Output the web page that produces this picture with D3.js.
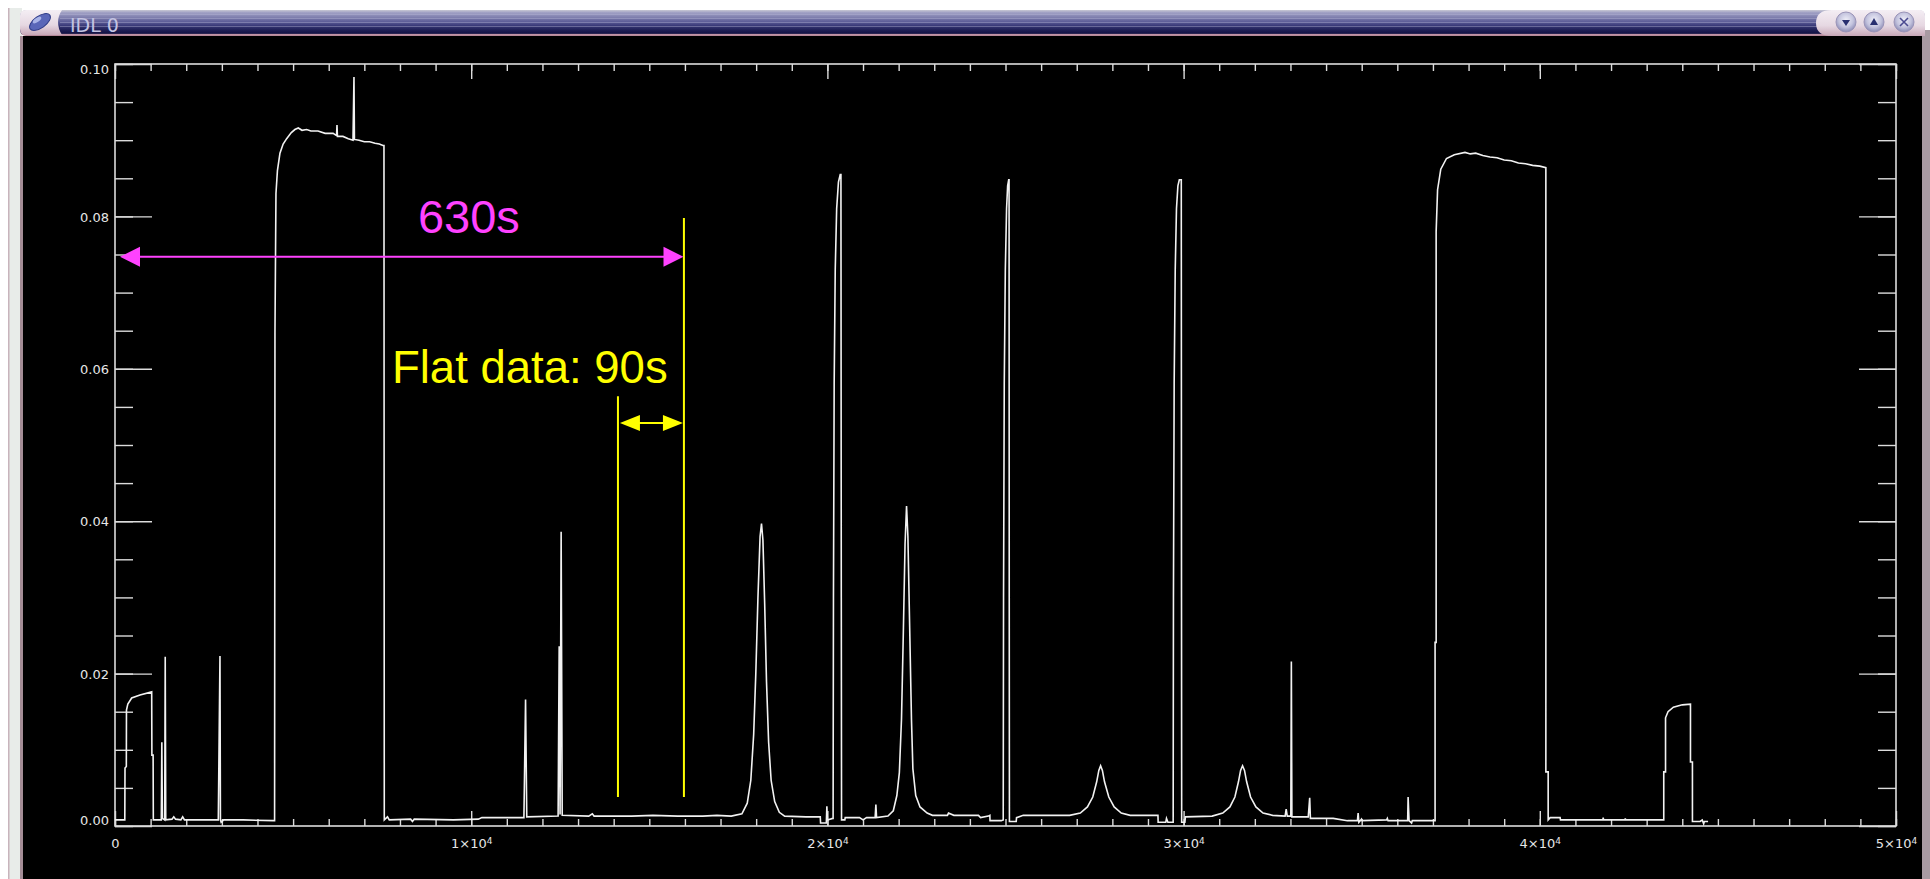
<!DOCTYPE html>
<html>
<head>
<meta charset="utf-8">
<script src="https://cdn.jsdelivr.net/npm/d3@7"></script>
<style>
  html, body { margin: 0; padding: 0; background: #fff; overflow: hidden; }
  svg { display: block; }
</style>
</head>
<body>
<div id="graph-wrapper"></div>
<script>
// signal trace (time units, signal)
const sampleTime = [
  0, 275, 281, 318, 322, 360, 468, 702, 1030, 1036, 1070, 1076, 1300, 1315, 1330, 1395, 1410, 1425,
  1600, 1650, 1700, 1850, 1900, 1950, 2900, 2947, 2960, 2980, 3050, 3600, 4440,
  // first long plateau
  4480, 4491, 4519, 4560, 4631, 4720, 4819, 4950, 5050, 5146, 5250, 5380, 5500, 5700, 5900, 6124,
  6220, 6232, 6245, 6400, 6550, 6681, 6709, 6722, 6850, 7000, 7150, 7300, 7420, 7523, 7551, 7560,
  // flat stretch
  7650, 7700, 8300, 8350, 8400, 9500, 10200, 10300, 11480, 11526, 11560, 12440, 12470, 12495, 12525, 12555,
  13300, 13400, 13450, 14500, 15100, 15800, 16500, 16900, 17300,
  // peak near 1.8e4
  17600, 17750, 17850, 17930, 17990, 18050, 18110, 18150, 18190, 18240, 18290, 18350, 18420, 18520, 18650, 18800,
  19400, 19800, 19808, 19970, 19985, 20000, 20150,
  // narrow peak near 2.0e4
  20160, 20170, 20190, 20220, 20260, 20310, 20360, 20380, 20390, 20397, 20490, 20500,
  20900, 21000, 21100, 21340, 21361, 21380, 21700,
  // peak near 2.2e4
  21850, 21950, 22020, 22080, 22130, 22180, 22222, 22260, 22310, 22360, 22400, 22480, 22600, 22800, 22950,
  23370, 23400, 23550, 24240, 24300, 24520, 24561, 24565, 24880,
  // narrow peak near 2.5e4
  24936, 24945, 24965, 24995, 25030, 25060, 25090, 25100, 25105, 25110, 25300, 25310, 25500, 26800,
  // small peak near 2.77e4
  27100, 27300, 27450, 27560, 27620, 27670, 27720, 27780, 27900, 28050, 28250, 28500, 29280, 29285,
  29500, 29520, 29560, 29700,
  // narrow peak near 3.0e4
  29707, 29715, 29735, 29765, 29800, 29840, 29880, 29935, 29941, 29946, 30036, 30050, 30800,
  // small peak near 3.17e4
  31100, 31300, 31440, 31540, 31600, 31655, 31710, 31770, 31880, 32030, 32230, 32500, 32850, 32880, 32910,
  33010, 33025, 33040, 33500, 33540, 33560, 34200, 34600,
  34880, 34900, 34920, 34995, 35010, 35700, 35720, 35740, 36290, 36303, 36315, 36330, 36400, 36420, 37060,
  // second long plateau
  37060, 37090, 37090, 37130, 37220, 37380, 37600, 37900, 38050, 38200, 38400, 38600, 38800, 39000, 39200,
  39400, 39600, 39800, 40000, 40170, 40170, 40235, 40235, 40290, 40570, 40580, 41770, 41780, 41790,
  42390, 42400, 42410, 43480,
  // short plateau
  43480, 43530, 43530, 43600, 43750, 44000, 44230, 44230, 44285, 44285, 44500, 44560, 44600, 44620, 44724
];
const signal = [
  0.0008, 0.0008, 0.0076, 0.0078, 0.0152, 0.0160, 0.0168, 0.0172, 0.0176, 0.0093, 0.0093, 0.0008, 0.0008, 0.0110, 0.0010, 0.0008, 0.0222, 0.0008,
  0.0009, 0.0012, 0.0009, 0.0008, 0.0012, 0.0008, 0.0008, 0.0223, 0.0008, 0.0005, 0.0008, 0.0008, 0.0007,
  0.0007, 0.0647, 0.0830, 0.0860, 0.0883, 0.0895, 0.0902, 0.0910, 0.0914, 0.0916, 0.0913, 0.0914, 0.0912, 0.0912, 0.0909, 0.0909,
  0.0906, 0.0920, 0.0905, 0.0905, 0.0902, 0.0900, 0.0983, 0.0901, 0.0900, 0.0898, 0.0898, 0.0896, 0.0895, 0.0893, 0.0893, 0.0008,
  0.0012, 0.0008, 0.0009, 0.0006, 0.0009, 0.0008, 0.0009, 0.0011, 0.0011, 0.0166, 0.0012, 0.0013, 0.0236, 0.0015, 0.0386, 0.0014,
  0.0013, 0.0016, 0.0013, 0.0013, 0.0014, 0.0013, 0.0013, 0.0014, 0.0013,
  0.0016, 0.0030, 0.0060, 0.0120, 0.0200, 0.0300, 0.0380, 0.0397, 0.0375, 0.0290, 0.0190, 0.0110, 0.0060, 0.0032, 0.0018, 0.0013,
  0.0012, 0.0012, 0.0004, 0.0004, 0.0026, 0.0008, 0.0010,
  0.0010, 0.0300, 0.0580, 0.0730, 0.0810, 0.0845, 0.0855, 0.0855, 0.0300, 0.0008, 0.0008, 0.0011,
  0.0011, 0.0008, 0.0011, 0.0011, 0.0028, 0.0011, 0.0013,
  0.0020, 0.0040, 0.0070, 0.0140, 0.0250, 0.0370, 0.0420, 0.0380, 0.0260, 0.0140, 0.0075, 0.0040, 0.0025, 0.0017, 0.0014,
  0.0014, 0.0017, 0.0014, 0.0014, 0.0011, 0.0013, 0.0014, 0.0007, 0.0007,
  0.0008, 0.0300, 0.0580, 0.0730, 0.0810, 0.0840, 0.0848, 0.0848, 0.0300, 0.0006, 0.0006, 0.0011, 0.0014, 0.0014,
  0.0017, 0.0025, 0.0038, 0.0058, 0.0073, 0.0079, 0.0073, 0.0058, 0.0038, 0.0025, 0.0017, 0.0014, 0.0014, 0.0005,
  0.0005, 0.0010, 0.0005, 0.0005,
  0.0005, 0.0300, 0.0580, 0.0730, 0.0810, 0.0840, 0.0848, 0.0848, 0.0300, 0.0005, 0.0005, 0.0012, 0.0013,
  0.0017, 0.0025, 0.0038, 0.0058, 0.0073, 0.0079, 0.0073, 0.0058, 0.0038, 0.0025, 0.0017, 0.0014, 0.0013, 0.0022, 0.0013,
  0.0013, 0.0216, 0.0012, 0.0012, 0.0037, 0.0010, 0.0010, 0.0007,
  0.0007, 0.0017, 0.0005, 0.0009, 0.0007, 0.0008, 0.0010, 0.0007, 0.0007, 0.0038, 0.0024, 0.0007, 0.0004, 0.0007, 0.0007,
  0.0241, 0.0241, 0.0780, 0.0835, 0.0862, 0.0876, 0.0881, 0.0884, 0.0882, 0.0883, 0.0880, 0.0878, 0.0877, 0.0874, 0.0873,
  0.0870, 0.0869, 0.0867, 0.0866, 0.0864, 0.0071, 0.0071, 0.0008, 0.0011, 0.0011, 0.0008, 0.0008, 0.0011, 0.0008,
  0.0008, 0.0010, 0.0008, 0.0008,
  0.0071, 0.0071, 0.0142, 0.0150, 0.0156, 0.0159, 0.0160, 0.0084, 0.0084, 0.0006, 0.0006, 0.0008, 0.0003, 0.0006, 0.0006
];

// axis ticks
const xMajor = [0, 10000, 20000, 30000, 40000, 50000];
const xMinor = d3.range(0, 51).map(i => i * 1000);
const yMajor = [0, 0.02, 0.04, 0.06, 0.08, 0.10];
const yMinor = d3.range(0, 21).map(i => i * 0.005);

// annotations (data coordinates)
const spanArrow = { from: 140, to: 15960, level: 0.0747, label: "630s", labelX: 8505, labelY: 0.0778 };
const flatLines = [14120, 15972];
const flatTops = [0.0564, 0.0798];
const flatBottom = 0.0038;
const flatArrow = { level: 0.0529, label: "Flat data: 90s", labelX: 7775, labelY: 0.0581 };

function drawChart() {
  const width = 1930;
  const height = 879;
  const plotLeft = 115, plotRight = 1896, plotTop = 64, plotBottom = 826;

  const svg = d3.select("#graph-wrapper").append("svg")
      .attr("width", width)
      .attr("height", height);

  const defs = svg.append("defs");
  const barGrad = defs.append("linearGradient").attr("id", "bar").attr("x1", 0).attr("y1", 0).attr("x2", 0).attr("y2", 1);
  [["0", "#c8c8d4"], ["0.1", "#a0a0c4"], ["0.3", "#7c7cac"], ["0.45", "#5e5e98"], ["0.6", "#3a3a78"],
   ["0.78", "#1e1e54"], ["0.9", "#121244"], ["0.93", "#c496a8"], ["1", "#b08494"]]
    .forEach(s => barGrad.append("stop").attr("offset", s[0]).attr("stop-color", s[1]));
  const capGrad = defs.append("linearGradient").attr("id", "cap").attr("x1", 0).attr("y1", 0).attr("x2", 0).attr("y2", 1);
  [["0", "#f4eef4"], ["0.6", "#e6d8e2"], ["1", "#c8a8b8"]]
    .forEach(s => capGrad.append("stop").attr("offset", s[0]).attr("stop-color", s[1]));
  const btnGrad = defs.append("radialGradient").attr("id", "btn").attr("cx", "50%").attr("cy", "40%").attr("r", "60%");
  [["0", "#eeeef8"], ["0.6", "#c4c4de"], ["1", "#8a8ab4"]]
    .forEach(s => btnGrad.append("stop").attr("offset", s[0]).attr("stop-color", s[1]));

  // window chrome
  svg.append("rect").attr("width", width).attr("height", height).attr("fill", "#ffffff");
  svg.append("rect").attr("x", 8).attr("y", 8).attr("width", 14).attr("height", height - 8).attr("fill", "#e8ece9");
  svg.append("rect").attr("x", 8).attr("y", 8).attr("width", 1.5).attr("height", height - 8).attr("fill", "#c8b4bc");
  svg.append("rect").attr("x", 20).attr("y", 10).attr("width", 1905).attr("height", 26).attr("rx", 6).attr("fill", "url(#bar)");
  [14, 18, 22, 26].forEach(yy => svg.append("rect").attr("x", 60).attr("y", yy).attr("width", 1760).attr("height", 1)
      .attr("fill", "#b8b8d8").attr("opacity", 0.4));
  svg.append("rect").attr("x", 20).attr("y", 36).attr("width", 3).attr("height", height - 36).attr("fill", "#a48c96");
  svg.append("rect").attr("x", 23).attr("y", 36).attr("width", 1899).attr("height", height - 36).attr("fill", "#000000");
  svg.append("rect").attr("x", 1922).attr("y", 30).attr("width", 8).attr("height", height - 30).attr("fill", "#a89aa2");

  // left cap with icon
  svg.append("path").attr("d", "M26,10 L62,10 Q54,22 62,35 L26,35 Q20,35 20,29 L20,16 Q20,10 26,10 Z").attr("fill", "url(#cap)");
  svg.append("ellipse").attr("cx", 40).attr("cy", 22).attr("rx", 12).attr("ry", 6)
      .attr("transform", "rotate(-35 40 22)").attr("fill", "#5a66b8").attr("stroke", "#303c88");
  svg.append("ellipse").attr("cx", 37).attr("cy", 20).attr("rx", 5).attr("ry", 2)
      .attr("transform", "rotate(-35 37 20)").attr("fill", "#aab4e8");
  svg.append("text").attr("x", 70).attr("y", 32).text("IDL 0")
      .style("font-family", "DejaVu Sans, sans-serif").style("font-size", "19px").attr("fill", "#c4c4e2");

  // right cap with buttons
  svg.append("path").attr("d", "M1832,10 L1920,10 Q1925,10 1925,16 L1925,36 L1832,36 Q1816,36 1816,23 Q1816,10 1832,10 Z")
      .attr("fill", "url(#cap)");
  const btnX = [1846, 1874, 1904];
  btnX.forEach(cx => svg.append("circle").attr("cx", cx).attr("cy", 22).attr("r", 10)
      .attr("fill", "url(#btn)").attr("stroke", "#9a94b8").attr("stroke-width", 1));
  svg.append("path").attr("d", "M1842,20 L1850,20 L1846,26 Z").attr("fill", "#283070");
  svg.append("path").attr("d", "M1870,25 L1878,25 L1874,18 Z").attr("fill", "#283070");
  svg.append("path").attr("d", "M1900,18 L1908,26 M1908,18 L1900,26").attr("stroke", "#4a4a90").attr("stroke-width", 1.6);

  // scales
  const x = d3.scaleLinear().domain([0, 50000]).range([plotLeft, plotRight]);
  const y = d3.scaleLinear().domain([0, 0.1]).range([plotBottom, plotTop]);

  const axisColor = "#dcdcdc";
  function styleAxis(g) {
    g.select(".domain").remove();
    g.selectAll(".tick line").attr("stroke", axisColor).attr("stroke-width", 1.4);
  }

  // frame
  svg.append("rect").attr("x", plotLeft).attr("y", plotTop)
      .attr("width", plotRight - plotLeft).attr("height", plotBottom - plotTop)
      .attr("fill", "none").attr("stroke", axisColor).attr("stroke-width", 1.6);

  const labelFont = "DejaVu Sans, sans-serif";

  // bottom
  svg.append("g").attr("transform", `translate(0,${plotBottom})`)
      .call(d3.axisBottom(x).tickValues(xMinor).tickSize(-7).tickFormat("")).call(styleAxis);
  const xAxisG = svg.append("g").attr("transform", `translate(0,${plotBottom})`)
      .call(d3.axisBottom(x).tickValues(xMajor).tickSize(-15).tickPadding(13).tickFormat(d => d))
      .call(styleAxis);
  xAxisG.selectAll(".tick text")
      .attr("fill", "#e6e6e6").style("font-family", labelFont).style("font-size", "13px")
      .each(function (d) {
        const t = d3.select(this);
        if (d === 0) { t.text("0"); return; }
        t.text("");
        t.append("tspan").text(`${d / 10000}×10`);
        t.append("tspan").text("4").attr("dy", "-0.45em").style("font-size", "9px");
      });

  // top
  svg.append("g").attr("transform", `translate(0,${plotTop})`)
      .call(d3.axisTop(x).tickValues(xMinor).tickSize(-7).tickFormat("")).call(styleAxis);
  svg.append("g").attr("transform", `translate(0,${plotTop})`)
      .call(d3.axisTop(x).tickValues(xMajor).tickSize(-15).tickFormat("")).call(styleAxis);

  // left
  svg.append("g").attr("transform", `translate(${plotLeft},0)`)
      .call(d3.axisLeft(y).tickValues(yMinor).tickSize(-18).tickFormat("")).call(styleAxis);
  const yAxisG = svg.append("g").attr("transform", `translate(${plotLeft},0)`)
      .call(d3.axisLeft(y).tickValues(yMajor).tickSize(-37).tickPadding(6).tickFormat(d3.format(".2f")))
      .call(styleAxis);
  yAxisG.selectAll(".tick text")
      .attr("fill", "#e6e6e6").style("font-family", labelFont).style("font-size", "13px")
      .attr("dy", d => d === 0 ? "-0.1em" : (d >= 0.1 ? "0.75em" : "0.36em"));

  // right
  svg.append("g").attr("transform", `translate(${plotRight},0)`)
      .call(d3.axisRight(y).tickValues(yMinor).tickSize(-18).tickFormat("")).call(styleAxis);
  svg.append("g").attr("transform", `translate(${plotRight},0)`)
      .call(d3.axisRight(y).tickValues(yMajor).tickSize(-37).tickFormat("")).call(styleAxis);

  // trace
  const points = d3.zip(sampleTime, signal);
  const line = d3.line().x(d => x(d[0])).y(d => y(d[1]));
  svg.append("path").datum(points)
      .attr("d", line)
      .attr("fill", "none").attr("stroke", "#f2f2f2").attr("stroke-width", 1.6)
      .attr("stroke-linejoin", "miter");

  // annotations
  const pink = "#ff42ff";
  const yellow = "#ffff00";
  const annotFont = "Liberation Sans, Arial, sans-serif";

  function arrowHead(tipX, tipY, dir, color, len, half) {
    svg.append("path")
        .attr("d", `M${tipX},${tipY} L${tipX - dir * len},${tipY - half} L${tipX - dir * len},${tipY + half} Z`)
        .attr("fill", color);
  }

  // yellow lines
  flatLines.forEach((t, i) => {
    svg.append("line")
        .attr("x1", x(t)).attr("x2", x(t))
        .attr("y1", y(flatBottom)).attr("y2", y(flatTops[i]))
        .attr("stroke", yellow).attr("stroke-width", 2);
  });

  // pink span arrow
  const py = y(spanArrow.level);
  svg.append("line").attr("x1", x(spanArrow.from) + 15).attr("x2", x(spanArrow.to) - 15)
      .attr("y1", py).attr("y2", py).attr("stroke", pink).attr("stroke-width", 2);
  arrowHead(x(spanArrow.from), py, -1, pink, 20, 10);
  arrowHead(x(spanArrow.to), py, 1, pink, 20, 10);
  svg.append("text").attr("x", x(spanArrow.labelX)).attr("y", y(spanArrow.labelY))
      .text(spanArrow.label).attr("fill", pink)
      .style("font-family", annotFont).style("font-size", "47px");

  // yellow flat arrow
  const fy = y(flatArrow.level);
  svg.append("line").attr("x1", x(flatLines[0]) + 15).attr("x2", x(flatLines[1]) - 15)
      .attr("y1", fy).attr("y2", fy).attr("stroke", yellow).attr("stroke-width", 2);
  arrowHead(x(flatLines[0]) + 2, fy, -1, yellow, 20, 8);
  arrowHead(x(flatLines[1]) - 1, fy, 1, yellow, 20, 8);
  svg.append("text").attr("x", x(flatArrow.labelX)).attr("y", y(flatArrow.labelY))
      .text(flatArrow.label).attr("fill", yellow)
      .style("font-family", annotFont).style("font-size", "45.5px");
}

if (document.readyState !== 'loading') {
  drawChart();
} else { document.addEventListener("DOMContentLoaded", () => drawChart()) }
</script>
</body>
</html>
